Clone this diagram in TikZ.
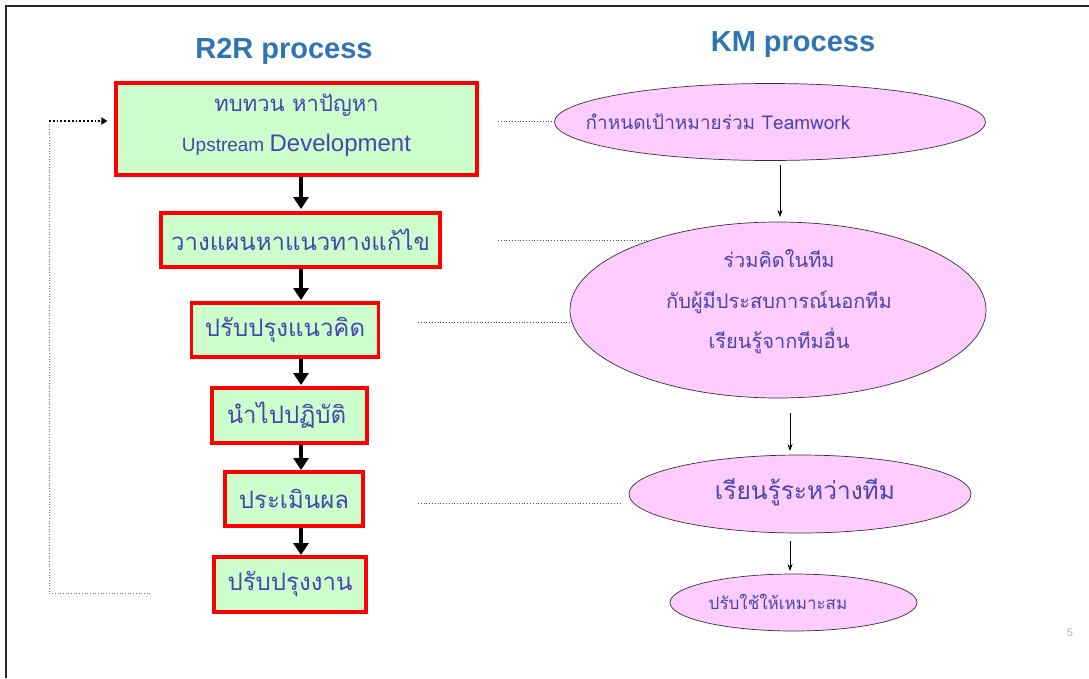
\documentclass[tikz,border=0pt]{standalone}
\usepackage{fontspec}
\setmainfont{Liberation Sans}
\newfontfamily\thai[Script=Thai]{Loma}
\usetikzlibrary{arrows.meta,shapes.geometric}
\definecolor{titleblue}{RGB}{46,117,182}
\definecolor{txt}{RGB}{70,70,175}
\definecolor{boxgreen}{RGB}{204,255,204}
\definecolor{boxred}{RGB}{255,0,0}
\definecolor{pinkfill}{RGB}{255,204,255}
\tikzset{
  r2rbox/.style={draw=boxred,line width=3.2pt,fill=boxgreen,text=txt,font=\thai\fontsize{24}{28}\selectfont,inner sep=0pt,align=center},
  kmell/.style={ellipse,draw=black!80,line width=0.7pt,fill=pinkfill,text=txt,inner sep=0pt,align=center},
  bigarrow/.style={-{Triangle[width=15pt,length=12pt]},line width=4.5pt},
  thinarrow/.style={-{Stealth[length=7pt,width=5pt]},line width=0.7pt},
  dotline/.style={dotted,line width=0.8pt,black!70},
  title/.style={text=titleblue,font=\bfseries\fontsize{29}{34}\selectfont}
}
\begin{document}
\begin{tikzpicture}[x=1pt,y=-1pt]
\useasboundingbox (0,0) rectangle (1089,678);
\fill[white] (0,0) rectangle (1089,678);
% frame
\draw[line width=2pt,black!85] (6,678) -- (6,6) -- (1089,6);

% titles
\node[title] (t1) at (284,51) {R2R process};
\node[title] (t2) at (793,45) {KM process};

% R2R boxes
\node[r2rbox,minimum width=361pt,minimum height=92pt] (b1) at (296.5,129) {};
\node[text=txt,font=\thai\fontsize{22}{26}\selectfont] (b1a) at (296.5,105) {ทบทวน หาปัญหา};
\node[text=txt,font=\fontsize{19}{22}\selectfont] (b1b) at (296.5,145) {Upstream {\fontsize{24}{28}\selectfont Development}};
\node[r2rbox,minimum width=279pt,minimum height=54pt] (b2) at (300.5,240) {วางแผนหาแนวทางแก้ไข};
\node[r2rbox,minimum width=187pt,minimum height=54pt] (b3) at (285,330) {ปรับปรุงแนวคิด};
\node[r2rbox,minimum width=155pt,minimum height=55pt] (b4) at (289.5,415.5) {นำไปปฏิบัติ\hspace*{6pt}};
\node[r2rbox,minimum width=138pt,minimum height=54pt] (b5) at (294,499) {ประเมินผล};
\node[r2rbox,minimum width=152pt,minimum height=55pt] (b6) at (290,584.5) {ปรับปรุงงาน};

\coordinate (a1s) at (301,177); \coordinate (a1e) at (301,209);
\coordinate (a2s) at (301,269); \coordinate (a2e) at (301,300);
\coordinate (a3s) at (301,359); \coordinate (a3e) at (301,385);
\coordinate (a4s) at (301,445); \coordinate (a4e) at (301,470);
\coordinate (a5s) at (301,528); \coordinate (a5e) at (301,555);
\draw[bigarrow] (a1s) -- (a1e);
\draw[bigarrow] (a2s) -- (a2e);
\draw[bigarrow] (a3s) -- (a3e);
\draw[bigarrow] (a4s) -- (a4e);
\draw[bigarrow] (a5s) -- (a5e);

% feedback loop
\coordinate (fb0) at (150,593);
\coordinate (fb1) at (49,593);
\coordinate (fb2) at (49,121);
\draw[dotted,line width=0.7pt,black!55] (fb0) -- (fb1) -- (fb2);
\draw[dotted,line width=1.8pt,-{Triangle[width=7pt,length=6pt]}] (fb2) -- ([xshift=-7pt]b1.west |- fb2);

% KM ellipses
\node[kmell,minimum width=431pt,minimum height=77pt] (e1) at (770,122) {};
\node[text=txt,font=\thai\fontsize{19}{22}\selectfont] (e1t) at (718,122) {กำหนดเป้าหมายร่วม Teamwork};
\node[kmell,minimum width=416pt,minimum height=176pt] (e2) at (778,310) {};
\node[text=txt,align=center,font=\thai\fontsize{20}{40.5}\selectfont] (e2t) at (779,302) {ร่วมคิดในทีม\\กับผู้มีประสบการณ์นอกทีม\\เรียนรู้จากทีมอื่น};
\node[kmell,minimum width=342pt,minimum height=78pt] (e3) at (800,494) {};
\node[text=txt,font=\thai\fontsize{24.5}{28}\selectfont] (e3t) at (805,492) {เรียนรู้ระหว่างทีม};
\node[kmell,minimum width=247pt,minimum height=57pt] (e4) at (793.5,602.5) {};
\node[text=txt,font=\thai\fontsize{17}{20}\selectfont] (e4t) at (778,602) {ปรับใช้ให้เหมาะสม};

\coordinate (k1s) at (780,165); \coordinate (k1e) at (780,217);
\coordinate (k2s) at (790,413); \coordinate (k2e) at (790,451);
\coordinate (k3s) at (790,541); \coordinate (k3e) at (790,571);
\draw[thinarrow] (k1s) -- (k1e);
\draw[thinarrow] (k2s) -- (k2e);
\draw[thinarrow] (k3s) -- (k3e);

% dotted links
\coordinate (d1) at (498,121);
\coordinate (d2) at (498,240);
\coordinate (d2e) at (648,240);
\coordinate (d3) at (418,322);
\coordinate (d4) at (418,503);
\coordinate (d4e) at (622,503);
\draw[dotline] (d1) -- (e1.west |- d1);
\draw[dotline] (d2) -- (d2e);
\draw[dotline] (d3) -- (e2.west |- d3);
\draw[dotline] (d4) -- (d4e);

% page number
\node[text=black!30,font=\fontsize{11}{13}\selectfont] (pg) at (1070,633) {5};
\end{tikzpicture}
\end{document}
